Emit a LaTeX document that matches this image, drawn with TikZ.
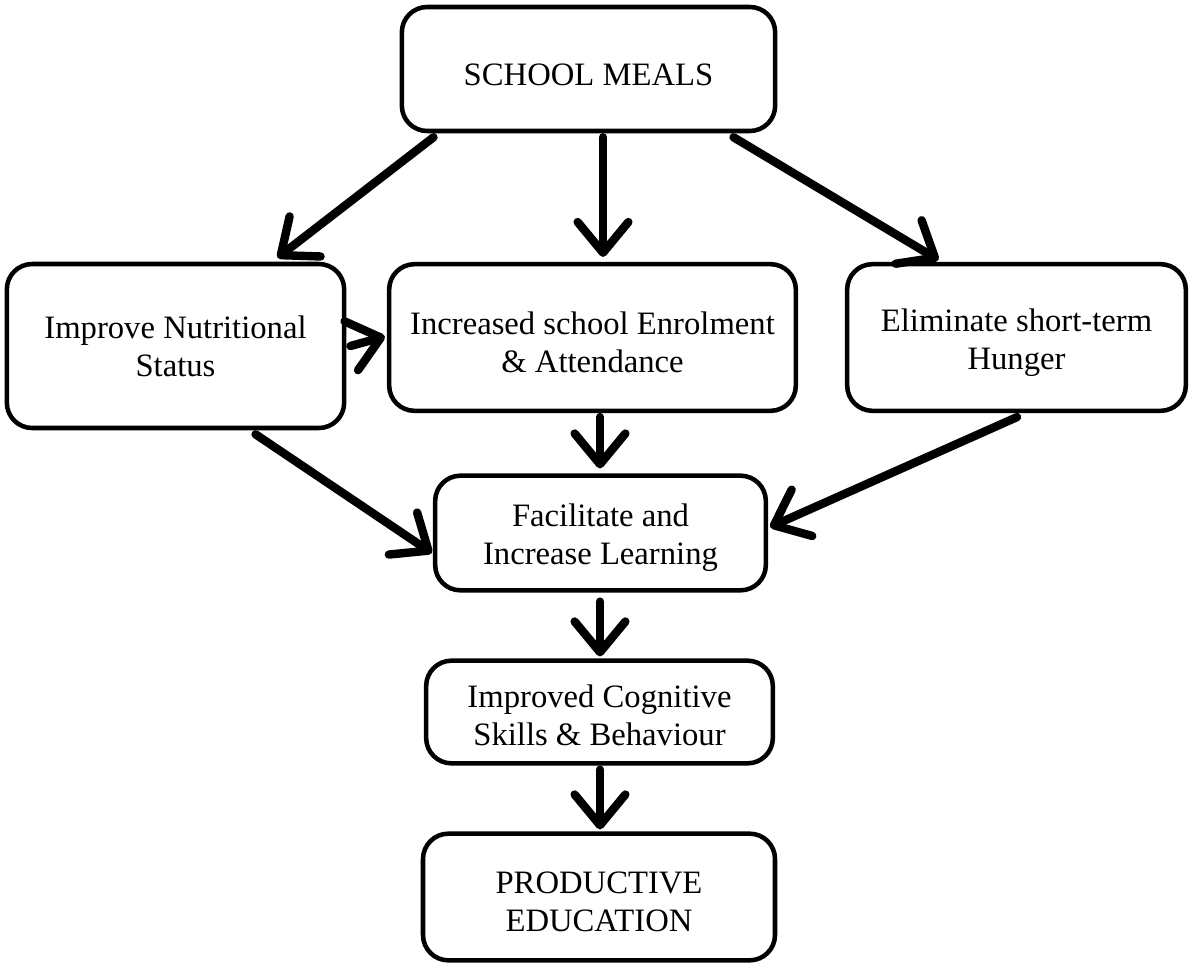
\documentclass[tikz,border=0pt]{standalone}
\usepackage{fontspec}
\setmainfont{Liberation Serif}
\usetikzlibrary{arrows.meta,calc}

\tikzset{every picture/.style={line width=0.75pt}}
\tikzset{
  blockbox/.style={draw, line width=3.4pt, rounded corners=19pt, align=center, inner sep=0pt,
    font=\fontsize{24.5}{28.5}\selectfont},
  lowtext/.style={text height=#1},
  flowarrow/.style={line width=6.3pt, line cap=round,
    -{Straight Barb[length=23pt, width=38pt, line width=6.3pt, round]}}
}

\begin{document}
\begin{tikzpicture}[x=0.75pt,y=0.75pt,yscale=-1,xscale=1]
\useasboundingbox (0,0) rectangle (1192,967);

% boxes
\node [blockbox, lowtext=24.5pt, minimum width=280pt, minimum height=93pt] (meals) at (588.5,69) {SCHOOL MEALS};
\node [blockbox, minimum width=253pt, minimum height=123pt] (nutrition) at (175.5,346) {Improve Nutritional\\Status};
\node [blockbox, lowtext=53pt, minimum width=305pt, minimum height=110pt] (enrol) at (592.5,337.5) {Increased school Enrolment\\\& Attendance};
\node [blockbox, lowtext=53pt, minimum width=254pt, minimum height=110pt] (hunger) at (1016.5,337.5) {Eliminate short-term\\Hunger};
\node [blockbox, lowtext=53pt, minimum width=248pt, minimum height=86pt] (learning) at (600.5,533) {Facilitate and\\Increase Learning};
\node [blockbox, lowtext=51pt, minimum width=260pt, minimum height=77pt] (skills) at (599.5,712) {Improved Cognitive\\Skills \& Behaviour};
\node [blockbox, lowtext=52pt, minimum width=264pt, minimum height=95pt] (education) at (599,897) {PRODUCTIVE\\EDUCATION};

% arrows
\draw [flowarrow] ($(meals.south)+(-155,4)$) -- ($(nutrition.north)+(102,-4)$);
\draw [flowarrow] ($(meals.south)+(14.5,4)$) -- ($(enrol.north)+(10.5,-5)$);
\draw [flowarrow] ($(meals.south)+(145,4)$) -- ($(hunger.north)+(-78,-2)$);
\draw [flowarrow] ($(nutrition.east)+(4,0)$) -- ($(enrol.west)+(-2,-1)$);
\draw [flowarrow] ($(enrol.south)+(7.5,4)$) -- ($(learning.north)+(-0.5,-5)$);
\draw [flowarrow] ($(hunger.south)+(0.5,4)$) -- ($(learning.east)+(2,-6)$);
\draw [flowarrow] ($(nutrition.south)+(80,4)$) -- ($(learning.west)+(-1,20)$);
\draw [flowarrow] ($(learning.south)+(-0.5,9)$) -- ($(skills.north)+(0.5,-2)$);
\draw [flowarrow] ($(skills.south)+(0.5,4)$) -- ($(education.north)+(1,-2)$);

\end{tikzpicture}
\end{document}
